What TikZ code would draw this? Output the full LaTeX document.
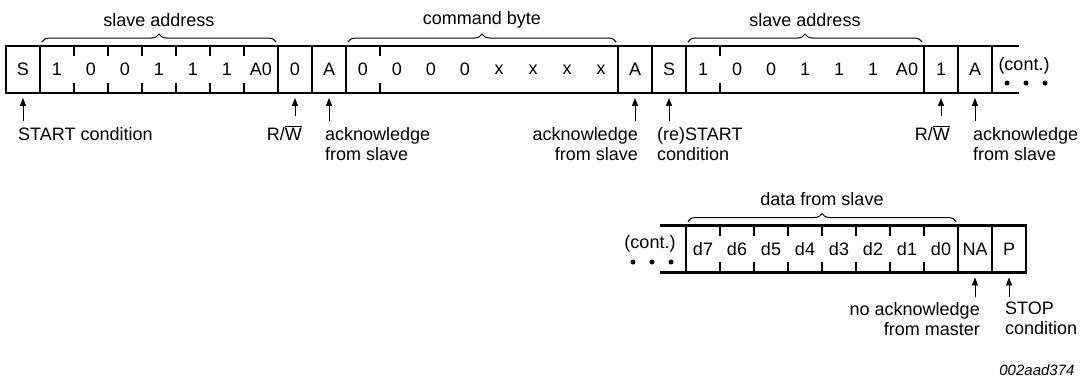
\documentclass[tikz,border=0pt]{standalone}
\usepackage{fontspec}
\setmainfont{Liberation Sans}
\usetikzlibrary{arrows.meta,decorations.pathreplacing}

\begin{document}
\begin{tikzpicture}[x=1pt,y=-1pt,>={Triangle[length=8pt,width=6pt]},font=\fontsize{18}{20}\selectfont,
    cell/.style={minimum width=34pt,minimum height=46.5pt,inner sep=0pt},
    frame/.style={line width=2.2pt,line cap=rect},
    tick/.style={line width=1.6pt},
    lbl/.style={inner sep=0pt,align=left},
    rlbl/.style={inner sep=0pt,align=right},
    pointer/.style={->,line width=1pt,shorten >=5pt},
    brace/.style={decorate,decoration={brace,amplitude=8pt},line width=1pt}]

  \useasboundingbox (0,0) rectangle (1088,380);

  % first frame: write command, then read address
  \foreach \t [count=\i from 0] in {S,1,0,0,1,1,1,A0,0,A,0,0,0,0,x,x,x,x,A,S,1,0,0,1,1,1,A0,1,A}
    \node[cell] (t\i) at (23+34*\i,69.5) {\t};
  \draw[frame] (t0.north west) -- ([xshift=26pt]t28.north east);
  \draw[frame] (t0.south west) -- ([xshift=26pt]t28.south east);
  \foreach \i in {0,1,8,9,10,18,19,20,27,28}
    \draw[frame] (t\i.north west) -- (t\i.south west);
  \draw[frame] (t28.north east) -- (t28.south east);
  \foreach \i in {2,...,7,11,...,17,21,...,26}
    \draw[tick] (t\i.north west) -- ++(0,10) (t\i.south west) -- ++(0,-10);

  \node (cont1) at (1024,66) {(cont.)};
  \foreach \x in {1007,1026,1045} \fill (\x,83) circle (2.5pt);

  \draw[brace] ([xshift=2pt,yshift=4pt]t1.north west) -- node[yshift=22pt] (addr1) {slave address} ([xshift=-2pt,yshift=4pt]t7.north east);
  \draw[brace] ([xshift=2pt,yshift=4pt]t10.north west) -- node[yshift=22pt] (cmd) {command byte} ([xshift=-2pt,yshift=4pt]t17.north east);
  \draw[brace] ([xshift=2pt,yshift=4pt]t20.north west) -- node[yshift=22pt] (addr2) {slave address} ([xshift=-2pt,yshift=4pt]t26.north east);

  \node[lbl,anchor=north west] (start) at (18,127) {START condition};
  \node[rlbl,anchor=base east] (rw1) at (302,140) {R/$\overline{\mbox{W}}$};
  \node[lbl,anchor=north west] (ack1) at (325,127) {acknowledge\\from slave};
  \node[rlbl,anchor=north east] (ack2) at (638,127) {acknowledge\\from slave};
  \node[lbl,anchor=north west] (restart) at (657,127) {(re)START\\condition};
  \node[rlbl,anchor=base east] (rw2) at (950,140) {R/$\overline{\mbox{W}}$};
  \node[lbl,anchor=north west] (ack3) at (973,127) {acknowledge\\from slave};

  \foreach \i in {0,9,18,19,28}
    \draw[pointer] ([yshift=-28pt]t\i.south) -- (t\i.south);
  \foreach \i in {8,27}
    \draw[pointer] ([yshift=-23pt]t\i.south) -- (t\i.south);

  % second frame: data read back
  \foreach \t [count=\i from 0] in {d7,d6,d5,d4,d3,d2,d1,d0,NA,P}
    \node[cell] (b\i) at (703+34*\i,249) {\t};
  \draw[frame] ([xshift=-25pt]b0.north west) -- (b9.north east);
  \draw[frame] ([xshift=-25pt]b0.south west) -- (b9.south east);
  \foreach \i in {0,8,9}
    \draw[frame] (b\i.north west) -- (b\i.south west);
  \draw[frame] (b9.north east) -- (b9.south east);
  \foreach \i in {1,...,7}
    \draw[tick] (b\i.north west) -- ++(0,10) (b\i.south west) -- ++(0,-10);

  \node (cont2) at (650,244) {(cont.)};
  \foreach \x in {633,652,671} \fill (\x,262) circle (2.5pt);

  \draw[brace] ([xshift=2pt,yshift=4pt]b0.north west) -- node[yshift=22pt] (data) {data from slave} ([xshift=-2pt,yshift=4pt]b7.north east);

  \node[rlbl,anchor=north east] (nack) at (980,302) {no acknowledge\\from master};
  \node[lbl,anchor=north west] (stop) at (1005,302) {STOP\\condition};
  \foreach \i in {8,9}
    \draw[pointer] ([yshift=-25pt]b\i.south) -- (b\i.south);

  \node[anchor=base east,font=\fontsize{15}{17}\selectfont\itshape] (code) at (1078,375) {002aad374};

\end{tikzpicture}
\end{document}
